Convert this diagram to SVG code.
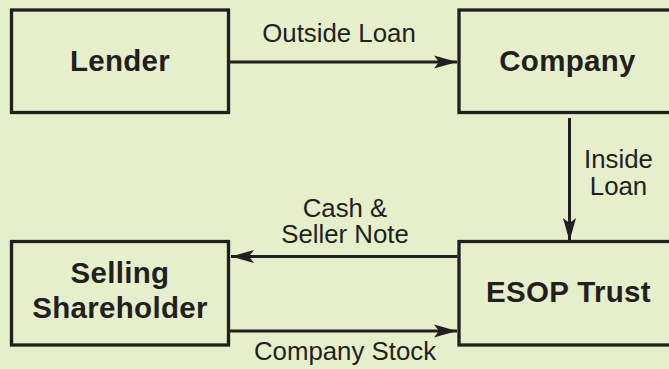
<svg xmlns="http://www.w3.org/2000/svg" width="669" height="369" viewBox="0 0 669 369">
<defs>
<style>
.box{fill:#E5EFCB;stroke:#231F20;stroke-width:3.3}
.bold{font-family:"Liberation Sans",Arial,sans-serif;font-weight:bold;font-size:29.5px;letter-spacing:0.3px;fill:#231F20;text-anchor:middle}
.lbl{font-family:"Liberation Sans",Arial,sans-serif;font-size:25.8px;fill:#231F20;text-anchor:middle}
.conn{stroke:#231F20;stroke-width:3;fill:none}
</style>
<marker id="ah" markerUnits="userSpaceOnUse" markerWidth="26" markerHeight="16" viewBox="-24 -8 26 16" refX="0" refY="0" orient="auto">
<path d="M0,0 L-23,-6.5 L-18,0 L-23,6.5 Z" fill="#231F20"/>
</marker>
</defs>
<rect x="0" y="0" width="669" height="369" fill="#E5EFCB"/>
<g id="lender">
<rect class="box" x="11.5" y="10" width="217" height="102.5"/>
<text class="bold" x="120" y="71">Lender</text>
</g>
<g id="company">
<rect class="box" x="459" y="10" width="220" height="102.5"/>
<text class="bold" x="567.5" y="71">Company</text>
</g>
<g id="selling-shareholder">
<rect class="box" x="11.5" y="241.5" width="217" height="103.5"/>
<text class="bold" x="120" y="283">Selling</text>
<text class="bold" x="120" y="318">Shareholder</text>
</g>
<g id="esop-trust">
<rect class="box" x="459" y="241.5" width="220" height="103.5"/>
<text class="bold" x="568.5" y="302">ESOP Trust</text>
</g>
<g id="connectors">
<line class="conn" x1="230" y1="62" x2="457" y2="62" marker-end="url(#ah)"/>
<line class="conn" x1="569.5" y1="118" x2="569.5" y2="241" marker-end="url(#ah)"/>
<line class="conn" x1="457.5" y1="256.5" x2="231" y2="256.5" marker-end="url(#ah)"/>
<line class="conn" x1="230" y1="331" x2="457" y2="331" marker-end="url(#ah)"/>
</g>
<g id="labels">
<text class="lbl" x="339" y="42">Outside Loan</text>
<text class="lbl" x="618.5" y="168">Inside</text>
<text class="lbl" x="618.5" y="195">Loan</text>
<text class="lbl" x="345" y="217">Cash &amp;</text>
<text class="lbl" x="345" y="243">Seller Note</text>
<text class="lbl" x="345" y="360">Company Stock</text>
</g>
</svg>
